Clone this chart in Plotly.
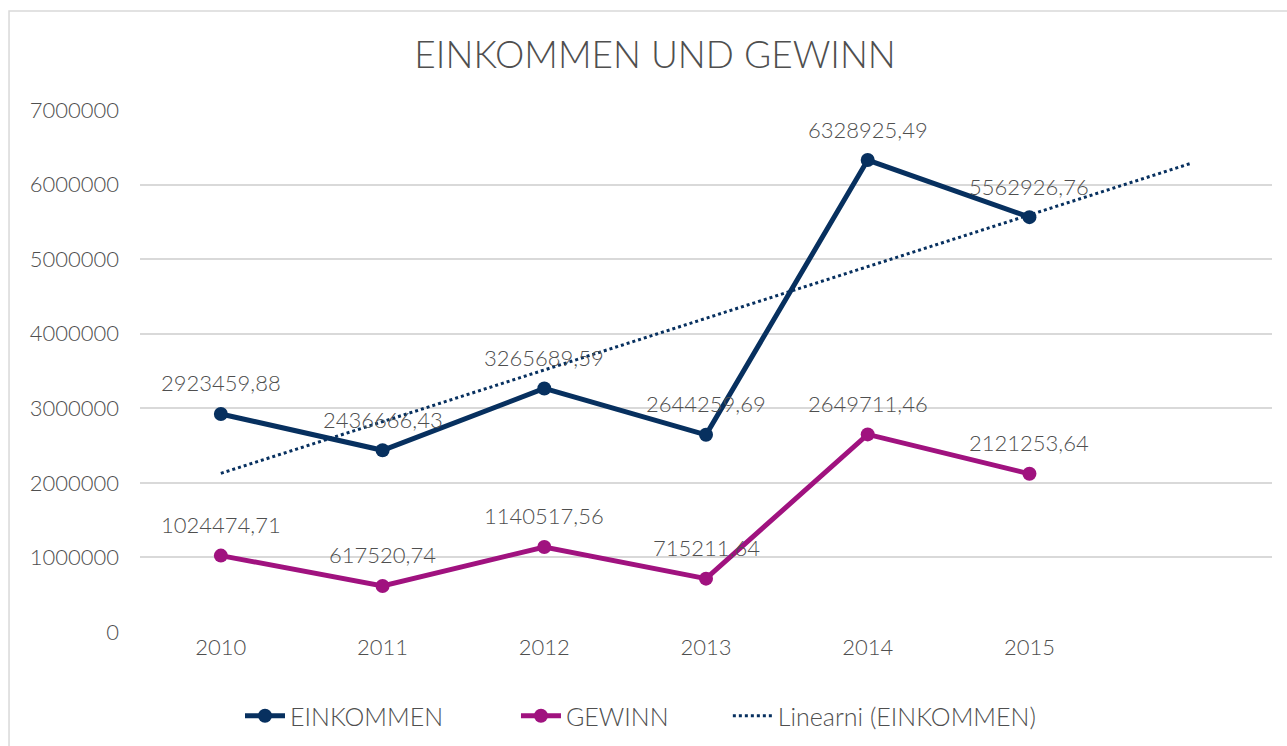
import numpy as np
import plotly.graph_objects as go

years = ["2010", "2011", "2012", "2013", "2014", "2015"]
einkommen = [2923459.88, 2436666.43, 3265689.59, 2644259.69, 6328925.49, 5562926.76]
gewinn = [1024474.71, 617520.74, 1140517.56, 715211.64, 2649711.46, 2121253.64]
y_ticks = [0, 1000000, 2000000, 3000000, 4000000, 5000000, 6000000, 7000000]
series_names = ["EINKOMMEN", "GEWINN", "Linearni (EINKOMMEN)"]

NAVY = "#07305F"
MAGENTA = "#A0127F"
GREY = "#4F4F4F"
FONT = "Lato"
W = 300
PAD1 = "\u00a0" * 10
PAD2 = "\u00a0" * 8

x = np.arange(1, len(years) + 1)
# linear trend with one period forward forecast (like Excel)
slope, intercept = np.polyfit(x, einkommen, 1)
x_trend = np.array([1, len(years) + 1])
y_trend = slope * x_trend + intercept

def fmt(v):
    return f"{v:.2f}".replace(".", ",")

fig = go.Figure()
fig.add_trace(go.Scatter(x=x_trend, y=y_trend, mode="lines", name=series_names[2],
                         line=dict(color=NAVY, width=3, dash="dot"), legendrank=3))
fig.add_trace(go.Scatter(x=x, y=einkommen, mode="lines+markers", name=series_names[0] + PAD1,
                         line=dict(color=NAVY, width=5), marker=dict(size=14, color=NAVY),
                         legendrank=1))
fig.add_trace(go.Scatter(x=x, y=gewinn, mode="lines+markers", name=series_names[1] + PAD2,
                         line=dict(color=MAGENTA, width=5), marker=dict(size=14, color=MAGENTA),
                         legendrank=2))

for series in (einkommen, gewinn):
    for xi, v in zip(x, series):
        fig.add_annotation(x=xi, y=v, text=fmt(v), showarrow=False, yshift=31,
                           font=dict(family=FONT, size=22, color=GREY, weight=W))

fig.add_shape(type="rect", xref="paper", yref="paper", x0=-0.1157, x1=1.05, y0=-0.4, y1=1.1897,
              line=dict(color="#D9D9D9", width=1.5), fillcolor="rgba(0,0,0,0)", layer="below")

fig.update_layout(
    width=1287, height=746,
    margin=dict(l=140, r=15, t=110, b=114, autoexpand=False),
    paper_bgcolor="white", plot_bgcolor="white",
    font=dict(family=FONT, size=22, color=GREY, weight=W),
    title=dict(text="EINKOMMEN UND GEWINN", x=0.509, xanchor="center", y=1 - 55 / 746,
               yanchor="middle", font=dict(family=FONT, size=37, color=GREY, weight=W)),
    showlegend=True,
    legend=dict(orientation="h", x=(240 - 140) / 1132, xanchor="left",
                yref="container", y=1 - 716 / 746, yanchor="middle",
                font=dict(family=FONT, size=25, color=GREY, weight=W), itemwidth=40,
                traceorder="normal"),
    xaxis=dict(range=[0.5, len(years) + 1.5], tickvals=list(x), ticktext=years,
               showgrid=False, zeroline=False, showline=False, ticks="",
               tickfont=dict(family=FONT, size=22, color=GREY, weight=W)),
    yaxis=dict(range=[0, 7000000], tickvals=y_ticks, ticktext=[str(t) for t in y_ticks],
               showgrid=True, gridcolor="#D9D9D9", gridwidth=1.5, zeroline=False,
               showline=False, ticks="", ticklabelstandoff=20,
               tickfont=dict(family=FONT, size=22, color=GREY, weight=W)),
)

fig.write_html("out.html")
